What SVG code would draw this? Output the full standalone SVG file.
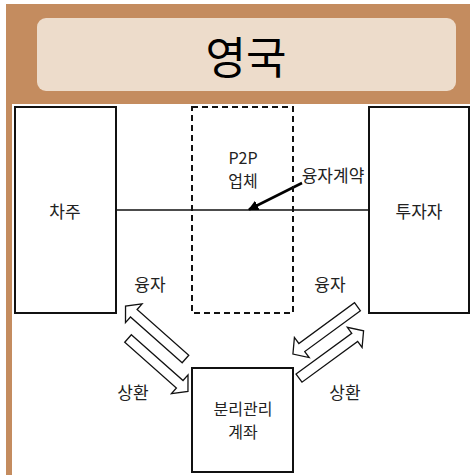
<svg xmlns="http://www.w3.org/2000/svg" width="470" height="475" viewBox="0 0 470 475">
<defs>
<style>
.t{font-family:"Noto Sans CJK KR","Noto Sans",sans-serif;font-size:17px;fill:#222;text-anchor:middle}
.t2{font-family:"Noto Sans CJK KR","Noto Sans",sans-serif;font-size:16px;fill:#222;text-anchor:middle}
.box{fill:#fff;stroke:#111;stroke-width:2}
.blk{fill:#fff;stroke:#111;stroke-width:1.3;stroke-linejoin:miter}
</style>
<marker id="ah" viewBox="0 0 10 10" refX="9" refY="5" markerWidth="4" markerHeight="4" orient="auto" markerUnits="strokeWidth">
<path d="M0,0 L10,5 L0,10 z" fill="#000"/>
</marker>
<polygon id="arr" points="-40,-5 29,-5 29,-12.5 40,0 29,12.5 29,5 -40,5"/>
</defs>
<rect x="0" y="0" width="470" height="475" fill="#fff"/>
<rect x="6" y="4" width="464" height="100" fill="#C48C5F"/>
<rect x="6" y="104" width="6" height="371" fill="#C48C5F"/>
<g id="title">
<rect x="37" y="18" width="419" height="73" rx="9" fill="#EDDCCB"/>
<text x="246" y="74" font-family="'Noto Sans CJK KR','Noto Sans',sans-serif" font-size="44" text-anchor="middle" fill="#000">영국</text>
</g>
<g id="connectors">
<line x1="116" y1="210" x2="369" y2="210" stroke="#111" stroke-width="1.6"/>
<line x1="302" y1="183" x2="249" y2="209.5" stroke="#000" stroke-width="2.6" marker-end="url(#ah)"/>
<use href="#arr" class="blk" transform="translate(155.5,332.5) rotate(221.5)"/>
<use href="#arr" class="blk" transform="translate(158,365) rotate(41.5)"/>
<use href="#arr" class="blk" transform="translate(325.2,330.4) rotate(143.8)"/>
<use href="#arr" class="blk" transform="translate(331.3,354.5) rotate(-36.2)"/>
</g>
<g id="p2p">
<rect x="192" y="107" width="101" height="206" fill="none" stroke="#111" stroke-width="2" stroke-dasharray="6,4"/>
<text class="t2" x="243" y="164">P2P<tspan x="243" dy="23.3">업체</tspan></text>
</g>
<g id="borrower">
<rect class="box" x="15" y="107" width="101" height="206"/>
<text class="t" x="65" y="218">차주</text>
</g>
<g id="investor">
<rect class="box" x="369" y="107" width="100" height="206"/>
<text class="t" x="419" y="218">투자자</text>
</g>
<g id="account">
<rect class="box" x="192" y="368" width="101" height="104"/>
<text class="t2" x="243" y="414.5">분리관리<tspan x="243" dy="23.3">계좌</tspan></text>
</g>
<g id="labels">
<text class="t" x="333" y="182">융자계약</text>
<text class="t" x="150" y="291">융자</text>
<text class="t" x="330" y="291">융자</text>
<text class="t" x="133" y="399">상환</text>
<text class="t" x="345" y="399">상환</text>
</g>
</svg>
